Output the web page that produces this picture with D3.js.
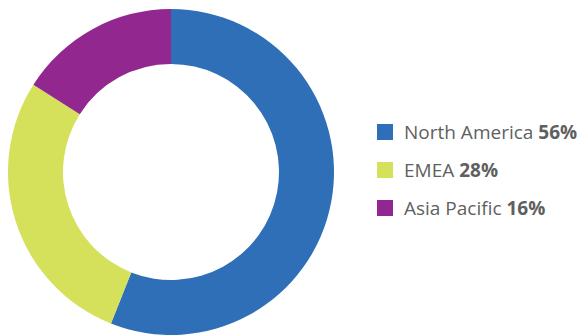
<!DOCTYPE html>
<html>
<head>
<meta charset="utf-8">
<script src="https://cdn.jsdelivr.net/npm/d3@7"></script>
<style>
  html, body { margin: 0; padding: 0; background: #fff; }
  svg { display: block; }
  text { font-family: "Open Sans", "Noto Sans", sans-serif; }
</style>
</head>
<body>
<svg id="chart" width="577" height="335"></svg>
<script>
// Revenue share by region
const regions = ["North America", "EMEA", "Asia Pacific"];
const shares = [56, 28, 16];
const colors = ["#2e6fb7", "#d5e05b", "#92278f"];

const svg = d3.select("#chart");

const cx = 171, cy = 172, outerR = 163, innerR = 108;

const pie = d3.pie().sort(null).value(d => d);
const arc = d3.arc().innerRadius(innerR).outerRadius(outerR);
const color = d3.scaleOrdinal().domain(regions).range(colors);

const g = svg.append("g").attr("transform", `translate(${cx},${cy})`);
g.selectAll("path")
  .data(pie(shares))
  .join("path")
  .attr("d", arc)
  .attr("fill", (d, i) => color(regions[i]));

// Legend
const legendY = d3.scalePoint().domain(regions).range([132, 208]);
const legend = svg.append("g");
const items = legend.selectAll("g")
  .data(regions)
  .join("g")
  .attr("transform", d => `translate(377,${legendY(d)})`);

items.append("rect")
  .attr("x", 0).attr("y", -8)
  .attr("width", 16).attr("height", 16)
  .attr("fill", d => color(d));

const label = items.append("text")
  .attr("x", 27).attr("y", 0)
  .attr("dy", "0.35em")
  .attr("font-size", 19)
  .attr("fill", "#5f5f5f");
label.append("tspan").text(d => d + " ");
label.append("tspan")
  .attr("font-weight", "bold")
  .text((d, i) => shares[i] + "%");
</script>
</body>
</html>
